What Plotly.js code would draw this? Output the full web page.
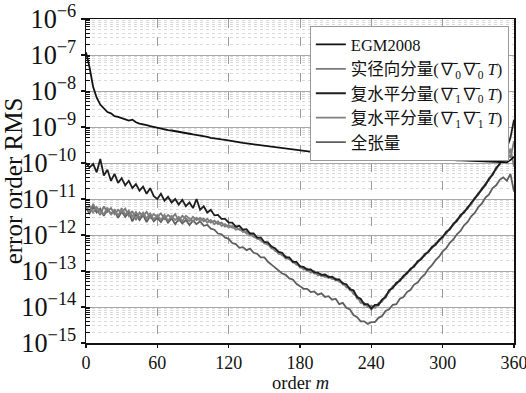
<!DOCTYPE html>
<html>
<head>
<meta charset="utf-8">
<script src="https://cdn.plot.ly/plotly-3.0.1.min.js"></script>
<style>html,body{margin:0;padding:0;background:#fff;}#chart{width:526px;height:393px;}</style>
</head>
<body>
<div id="chart"></div>
<script>
const order = [0,3,6,9,12,15,18,21,24,27,30,33,36,39,42,45,48,51,54,57,60,63,66,69,72,75,78,81,84,87,90,93,96,99,102,105,108,111,114,117,120,123,126,129,132,135,138,141,144,147,150,153,156,159,162,165,168,171,174,177,180,183,186,189,192,195,198,201,204,207,210,213,216,219,222,225,228,231,234,237,240,243,246,249,252,255,258,261,264,267,270,273,276,279,282,285,288,291,294,297,300,303,306,309,312,315,318,321,324,327,330,333,336,339,342,345,348,351,354,357,360];

const egm2008 = [1.2e-7,4.5e-8,1.3e-8,6.5e-9,4.2e-9,3.3e-9,2.6e-9,2.4e-9,2.0e-9,1.9e-9,1.75e-9,1.6e-9,1.5e-9,1.6e-9,1.35e-9,1.25e-9,1.2e-9,1.12e-9,1.05e-9,1.0e-9,9.2e-10,9.0e-10,8.6e-10,8.2e-10,8.0e-10,7.6e-10,7.3e-10,7.1e-10,6.8e-10,6.5e-10,6.2e-10,6.0e-10,5.7e-10,5.5e-10,5.3e-10,5.0e-10,4.9e-10,4.7e-10,4.5e-10,4.4e-10,4.2e-10,4.0e-10,3.9e-10,3.8e-10,3.6e-10,3.5e-10,3.4e-10,3.3e-10,3.2e-10,3.1e-10,3.0e-10,2.9e-10,2.8e-10,2.7e-10,2.65e-10,2.55e-10,2.5e-10,2.4e-10,2.35e-10,2.3e-10,2.2e-10,2.15e-10,2.1e-10,2.05e-10,2.0e-10,1.95e-10,2.1e-10,1.9e-10,1.85e-10,1.8e-10,1.78e-10,1.75e-10,1.72e-10,1.7e-10,1.68e-10,1.65e-10,1.6e-10,1.6e-10,1.58e-10,1.55e-10,1.55e-10,1.5e-10,1.52e-10,1.48e-10,1.45e-10,1.45e-10,1.42e-10,1.4e-10,1.42e-10,1.38e-10,1.36e-10,1.35e-10,1.33e-10,1.32e-10,1.3e-10,1.32e-10,1.28e-10,1.27e-10,1.26e-10,1.25e-10,1.24e-10,1.22e-10,1.25e-10,1.2e-10,1.19e-10,1.18e-10,1.17e-10,1.15e-10,1.16e-10,1.14e-10,1.13e-10,1.12e-10,1.1e-10,1.12e-10,1.09e-10,1.08e-10,1.06e-10,1.1e-10,1.05e-10,1.2e-10,1.5e-10];

const radial00 = [6.0e-12,4.5e-12,7.0e-12,5.0e-12,3.6e-12,6.2e-12,4.4e-12,5.6e-12,3.8e-12,5.0e-12,4.2e-12,5.4e-12,3.4e-12,4.6e-12,2.6e-12,4.2e-12,3.4e-12,4.4e-12,3.0e-12,3.8e-12,3.2e-12,4.0e-12,2.8e-12,3.6e-12,3.0e-12,3.8e-12,2.5e-12,3.4e-12,2.9e-12,2.4e-12,3.2e-12,2.6e-12,3.0e-12,2.4e-12,2.8e-12,2.2e-12,2.5e-12,2.0e-12,2.2e-12,1.7e-12,1.9e-12,1.6e-12,1.7e-12,1.4e-12,1.4e-12,1.1e-12,1.1e-12,8.8e-13,8.5e-13,7.0e-13,6.2e-13,5.4e-13,4.8e-13,3.6e-13,3.4e-13,2.7e-13,2.6e-13,2.1e-13,1.9e-13,1.5e-13,1.4e-13,1.1e-13,1.15e-13,9.0e-14,1.0e-13,7.5e-14,8.0e-14,6.8e-14,7.2e-14,6.0e-14,6.2e-14,5.0e-14,4.8e-14,3.5e-14,3.4e-14,2.3e-14,2.0e-14,1.3e-14,1.3e-14,1.0e-14,1.1e-14,9.5e-15,1.3e-14,1.4e-14,2.1e-14,2.6e-14,3.8e-14,4.2e-14,5.8e-14,6.6e-14,9.3e-14,1.05e-13,1.45e-13,1.7e-13,2.3e-13,2.7e-13,3.6e-13,4.3e-13,5.8e-13,6.8e-13,9.3e-13,1.1e-12,1.55e-12,1.9e-12,2.7e-12,3.2e-12,4.6e-12,5.3e-12,7.8e-12,1.0e-11,1.45e-11,1.8e-11,2.7e-11,3.4e-11,5.2e-11,6.6e-11,1.0e-10,1.2e-10,2.0e-10,1.4e-10,4.0e-10];

const horiz10 = [1.0e-10,7.5e-11,9.5e-11,5.5e-11,1.3e-10,4.5e-11,6.5e-11,3.2e-11,5.0e-11,2.8e-11,3.8e-11,2.4e-11,3.2e-11,2.0e-11,2.6e-11,1.7e-11,2.2e-11,1.4e-11,2.0e-11,1.2e-11,1.0e-11,1.4e-11,9.0e-12,1.15e-11,8.0e-12,1.0e-11,7.0e-12,9.5e-12,6.3e-12,8.0e-12,5.6e-12,1.0e-11,5.0e-12,6.3e-12,4.2e-12,5.0e-12,3.5e-12,3.6e-12,2.8e-12,2.8e-12,2.2e-12,2.2e-12,1.7e-12,1.8e-12,1.4e-12,1.45e-12,1.1e-12,1.1e-12,8.5e-13,8.5e-13,6.4e-13,6.2e-13,4.8e-13,4.3e-13,3.4e-13,3.2e-13,2.4e-13,2.4e-13,1.8e-13,1.8e-13,1.35e-13,1.3e-13,1.1e-13,1.1e-13,9.2e-14,9.0e-14,7.8e-14,8.0e-14,6.8e-14,7.0e-14,5.8e-14,5.8e-14,4.5e-14,4.3e-14,3.1e-14,2.9e-14,1.9e-14,1.7e-14,1.2e-14,1.2e-14,9.0e-15,1.15e-14,1.15e-14,1.6e-14,1.9e-14,2.9e-14,3.4e-14,4.6e-14,5.4e-14,7.2e-14,8.8e-14,1.15e-13,1.35e-13,1.85e-13,2.15e-13,2.9e-13,3.4e-13,4.6e-13,5.4e-13,7.2e-13,8.8e-13,1.2e-12,1.45e-12,2.0e-12,2.5e-12,3.5e-12,4.3e-12,5.8e-12,7.4e-12,1.05e-11,1.35e-11,1.9e-11,2.5e-11,3.6e-11,4.8e-11,7.2e-11,9.5e-11,1.4e-10,2.6e-10,5.0e-10,1.6e-9];

const horiz11 = [5.0e-12,6.5e-12,4.2e-12,6.0e-12,4.5e-12,3.8e-12,5.8e-12,3.6e-12,5.2e-12,3.4e-12,5.6e-12,3.7e-12,4.8e-12,3.2e-12,4.4e-12,3.0e-12,4.2e-12,2.9e-12,4.0e-12,2.7e-12,3.6e-12,2.6e-12,3.6e-12,2.5e-12,3.4e-12,2.6e-12,3.2e-12,2.4e-12,3.4e-12,2.8e-12,2.4e-12,3.0e-12,2.5e-12,2.9e-12,2.2e-12,2.6e-12,2.0e-12,2.4e-12,1.8e-12,2.0e-12,1.6e-12,1.8e-12,1.4e-12,1.5e-12,1.2e-12,1.25e-12,9.8e-13,9.8e-13,7.8e-13,7.6e-13,5.8e-13,5.6e-13,4.2e-13,4.0e-13,3.0e-13,2.9e-13,2.2e-13,2.2e-13,1.7e-13,1.7e-13,1.25e-13,1.25e-13,1.0e-13,1.05e-13,8.5e-14,8.8e-14,7.2e-14,7.8e-14,6.4e-14,6.8e-14,5.4e-14,5.6e-14,4.2e-14,4.1e-14,2.9e-14,2.8e-14,1.7e-14,1.6e-14,1.1e-14,1.15e-14,8.5e-15,1.1e-14,1.1e-14,1.6e-14,1.8e-14,3.0e-14,3.3e-14,4.8e-14,5.2e-14,7.4e-14,8.4e-14,1.18e-13,1.3e-13,1.9e-13,2.1e-13,3.0e-13,3.3e-13,4.8e-13,5.2e-13,7.4e-13,8.4e-13,1.25e-12,1.4e-12,2.1e-12,2.4e-12,3.6e-12,4.1e-12,6.0e-12,7.0e-12,1.1e-11,1.3e-11,2.0e-11,2.4e-11,3.8e-11,4.6e-11,7.5e-11,9.0e-11,1.6e-10,1.3e-10,2.5e-10,8.0e-11];

const fullTensor = [5.5e-12,4.0e-12,6.0e-12,4.2e-12,5.4e-12,3.4e-12,5.0e-12,4.0e-12,4.6e-12,3.0e-12,4.4e-12,3.2e-12,4.2e-12,2.4e-12,3.8e-12,2.6e-12,3.6e-12,2.3e-12,3.4e-12,2.4e-12,3.0e-12,2.3e-12,3.2e-12,2.2e-12,2.9e-12,2.0e-12,2.8e-12,2.1e-12,2.6e-12,1.9e-12,2.5e-12,2.0e-12,2.4e-12,1.8e-12,1.9e-12,1.5e-12,1.4e-12,1.1e-12,1.05e-12,8.5e-13,7.8e-13,6.0e-13,5.6e-13,4.4e-13,4.6e-13,3.8e-13,4.2e-13,3.2e-13,3.0e-13,2.4e-13,2.4e-13,1.8e-13,1.5e-13,1.25e-13,1.05e-13,8.5e-14,7.8e-14,6.2e-14,5.8e-14,4.4e-14,3.8e-14,3.2e-14,3.2e-14,2.6e-14,2.7e-14,2.2e-14,2.4e-14,1.9e-14,2.0e-14,1.6e-14,1.7e-14,1.2e-14,1.3e-14,9.5e-15,8.5e-15,6.0e-15,5.2e-15,4.0e-15,4.0e-15,3.4e-15,3.8e-15,3.8e-15,5.0e-15,5.6e-15,7.8e-15,8.6e-15,1.15e-14,1.2e-14,1.7e-14,1.9e-14,2.6e-14,3.0e-14,4.2e-14,4.8e-14,6.6e-14,8.0e-14,1.15e-13,1.45e-13,2.0e-13,2.5e-13,3.5e-13,4.3e-13,6.1e-13,7.5e-13,1.05e-12,1.3e-12,1.85e-12,2.3e-12,3.3e-12,4.1e-12,6.0e-12,7.5e-12,1.1e-11,1.35e-11,2.0e-11,2.4e-11,3.4e-11,4.0e-11,3.2e-11,5.0e-11,1.6e-11];

const names = ['EGM2008',
  '实径向分量(∇\u0304<sub>0</sub>∇\u0304<sub>0</sub> <i>T</i>)',
  '复水平分量(∇\u0304<sub>1</sub>∇\u0304<sub>0</sub> <i>T</i>)',
  '复水平分量(∇\u0304<sub>1</sub>∇\u0304<sub>1</sub> <i>T</i>)',
  '全张量'];
const colors = ['#111111','#7a7a7a','#1e1e1e','#808080','#5e5e5e'];
const xTitle = 'order <i>m</i>';
const yTitle = 'error order RMS';

const serif = 'Liberation Serif, Times New Roman, Noto Sans CJK SC, serif';

function tr(y, i, rank, w){
  return {x: order, y: y, type:'scatter', mode:'lines', name: names[i],
    line:{color: colors[i], width: w}, legendrank: rank};
}
const data = [
  tr(fullTensor, 4, 5, 1.8),
  tr(radial00, 1, 2, 1.8),
  tr(horiz11, 3, 4, 1.8),
  tr(horiz10, 2, 3, 1.8),
  tr(egm2008, 0, 1, 1.8)
];

const layout = {
  width: 526, height: 393,
  margin: {l: 86, r: 12, t: 19, b: 50},
  paper_bgcolor: '#fff', plot_bgcolor: '#fff',
  font: {family: serif, color: '#111', size: 20},
  showlegend: true,
  legend: {x: 0.523, y: 0.978, xanchor: 'left', yanchor: 'top',
    bgcolor: '#fff', bordercolor: '#999', borderwidth: 1,
    font: {family: serif, size: 16.5, color: '#111'}, itemwidth: 30,
    tracegroupgap: 0},
  xaxis: {range: [0, 360], dtick: 60, tick0: 0,
    showline: true, linecolor: '#111', linewidth: 1.5, mirror: true,
    ticks: 'outside', ticklen: 3, tickcolor: '#111', tickwidth: 1.5,
    showgrid: true, gridcolor: '#9a9a9a', griddash: 'dash', gridwidth: 1,
    zeroline: false, ticklabeloverflow: 'allow',
    tickfont: {family: serif, size: 18, color: '#111'}},
  yaxis: {type: 'log', range: [-15, -6], dtick: 1, exponentformat: 'power',
    showline: true, linecolor: '#111', linewidth: 1.5, mirror: true,
    ticks: 'outside', ticklen: 4, tickcolor: '#111', tickwidth: 1.5,
    showgrid: true, gridcolor: '#a8a8a8', gridwidth: 1,
    zeroline: false,
    minor: {dtick: 'D1', ticks: 'inside', ticklen: 4, tickcolor: '#111', tickwidth: 1,
      showgrid: true, gridcolor: '#dadada', griddash: 'dot', gridwidth: 1},
    tickfont: {family: serif, size: 21, color: '#111'},
    title: {text: yTitle, font: {family: serif, size: 25, color: '#111'}, standoff: 2}},
  annotations: [{text: xTitle, xref: 'paper', yref: 'paper', x: 0.5, y: -0.1585,
    xanchor: 'center', yanchor: 'bottom', showarrow: false, borderpad: 0,
    font: {family: serif, size: 18.5, color: '#111'}}]
};

Plotly.newPlot('chart', data, layout, {staticPlot: true, displayModeBar: false});
</script>
</body>
</html>
